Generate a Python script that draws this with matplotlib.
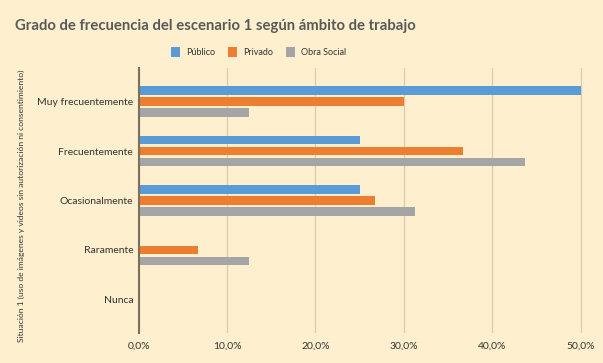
import matplotlib.pyplot as plt
import numpy as np
from matplotlib.ticker import FuncFormatter

categorias = ["Muy frecuentemente", "Frecuentemente", "Ocasionalmente", "Raramente", "Nunca"]
publico = [50.0, 25.0, 25.0, 0.0, 0.0]
privado = [30.0, 36.7, 26.7, 6.7, 0.0]
obra_social = [12.5, 43.75, 31.25, 12.5, 0.0]
series = ["Público", "Privado", "Obra Social"]
colores = ["#5B9BD5", "#ED7D31", "#A5A5A5"]

fondo = "#FEF0CE"
plt.rcParams['font.family'] = ['Lato', 'DejaVu Sans']

fig = plt.figure(figsize=(6.03, 3.63), dpi=100, facecolor=fondo)
ax = fig.add_axes([0.230, 0.0826, 0.765, 0.730])
ax.set_facecolor(fondo)

y = np.arange(len(categorias))
alto = 0.17
paso = 0.222
for i, (vals, nombre) in enumerate(zip([publico, privado, obra_social], series)):
    ax.barh(y + (i - 1) * paso, vals, height=alto, color=colores[i], label=nombre, zorder=3)

ax.set_xlim(0, 52.2)
ax.set_ylim(4.68, -0.68)
ax.set_xticks([0, 10, 20, 30, 40, 50])
ax.xaxis.set_major_formatter(FuncFormatter(lambda v, p: f"{v:.1f}%".replace(".", ",")))
ax.set_yticks(y)
ax.set_yticklabels(categorias)
ax.tick_params(axis='both', length=0, labelsize=7.5, colors="#333333")
ax.tick_params(axis='x', pad=6)
ax.tick_params(axis='y', pad=4)
ax.grid(axis='x', color="#D8CDB2", linewidth=0.9, zorder=0)

for s in ["top", "right", "bottom"]:
    ax.spines[s].set_visible(False)
ax.spines["left"].set_color("#7A7060")
ax.spines["left"].set_linewidth(1.5)
ax.spines["left"].set_zorder(4)

fig.text(0.036, 0.432, "Situación 1 (uso de imágenes y videos sin autorización ni consentimiento)",
         rotation=90, ha='center', va='center', fontsize=6.1, color="#333333")

fig.text(0.025, 0.928, "Grado de frecuencia del escenario 1 según ámbito de trabajo",
         fontsize=10.7, fontweight='bold', color="#595959", ha='left', va='center')

fig.legend(loc='center', bbox_to_anchor=(0.429, 0.857), ncol=3, frameon=False, fontsize=6.5,
           handlelength=1.0, handleheight=1.4, handletextpad=0.6, columnspacing=1.5,
           labelcolor="#333333")

fig.savefig("out.png", dpi=100, facecolor=fondo)
